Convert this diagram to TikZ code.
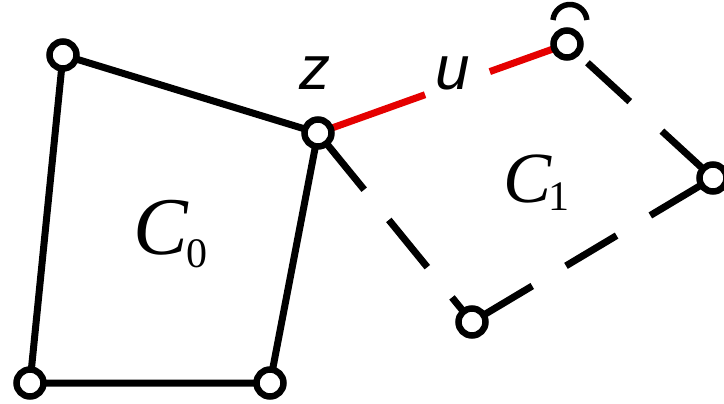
\documentclass[tikz,border=0pt]{standalone}
\usepackage{fontspec}
\setmainfont{Liberation Serif}
\newfontfamily\labsans{Liberation Sans}
\usetikzlibrary{calc}
\begin{document}
\begin{tikzpicture}[x=1pt,y=-1pt,
  vtx/.style={circle,draw=black,fill=white,line width=6.5pt,minimum size=27pt,inner sep=0pt},
  edge/.style={line width=7pt,black},
  redge/.style={line width=7pt,red!90!black},
  biglab/.style={inner sep=0pt,font=\fontsize{82}{82}\selectfont\itshape},
  sublab/.style={inner sep=0pt,font=\fontsize{42}{42}\selectfont},
  vlab/.style={inner sep=0pt,font=\labsans\fontsize{62}{62}\selectfont\itshape}]
\useasboundingbox (0,0) rectangle (724,404);
\coordinate (pa) at (63,55);
\coordinate (pz) at (318,133);
\coordinate (pb) at (270,383);
\coordinate (pl) at (30,383);
\coordinate (pu) at (567,44);
\coordinate (pr) at (713,178);
\coordinate (pd) at (472,322);
% solid cycle C0
\draw[edge] (pa) -- (pz) -- (pb) -- (pl) -- cycle;
% red edge zu with gap
\draw[redge] (pz) -- ($(pz)!0.43!(pu)$);
\draw[redge] ($(pz)!0.69!(pu)$) -- (pu);
% dashed cycle C1
\draw[edge] (pz) -- ($(pz)!0.30!(pd)$);
\draw[edge] ($(pz)!0.46!(pd)$) -- ($(pz)!0.71!(pd)$);
\draw[edge] ($(pz)!0.87!(pd)$) -- (pd);
\draw[edge] ($(pu)!0.14!(pr)$) -- ($(pu)!0.43!(pr)$);
\draw[edge] ($(pu)!0.65!(pr)$) -- (pr);
\draw[edge] (pr) -- ($(pr)!0.26!(pd)$);
\draw[edge] ($(pr)!0.40!(pd)$) -- ($(pr)!0.61!(pd)$);
\draw[edge] ($(pr)!0.75!(pd)$) -- (pd);
% vertices
\node[vtx] (a) at (pa) {};
\node[vtx] (z) at (pz) {};
\node[vtx] (b) at (pb) {};
\node[vtx] (l) at (pl) {};
\node[vtx] (u) at (pu) {};
\node[vtx] (r) at (pr) {};
\node[vtx] (d) at (pd) {};
% partial arc above u vertex
\draw[line width=5.5pt] (553,20) arc[start angle=185,end angle=355,radius=17];
% labels
\node[vlab,anchor=base] (zl) at (315,90) {z};
\node[vlab,anchor=base] (ul) at (453,90) {u};
\node[biglab,anchor=base west] (c0) at (133,254) {C};
\node[sublab,anchor=base west] (c0s) at (186,267) {0};
\node[biglab,anchor=base west,font=\fontsize{72}{72}\selectfont\itshape] (c1) at (503,202) {C};
\node[sublab,anchor=base west] (c1s) at (548,211) {1};
\end{tikzpicture}
\end{document}
